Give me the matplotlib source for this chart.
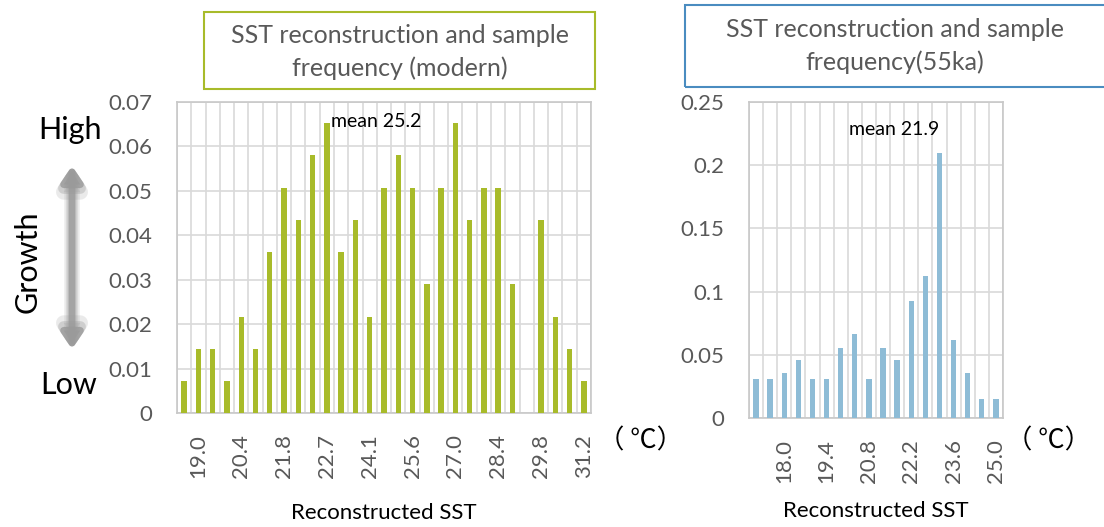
import matplotlib.pyplot as plt
from matplotlib.patches import Rectangle, FancyArrowPatch

plt.rcParams['font.family'] = ['Lato', 'DejaVu Sans']

# modern samples: category labels (only every third one is printed) and frequencies
modern_bins = ["", "19.0", "", "", "20.4", "", "", "21.8", "", "", "22.7", "", "",
               "24.1", "", "", "25.6", "", "", "27.0", "", "", "28.4", "", "",
               "29.8", "", "", "31.2"]
modern_freq = [0.0072, 0.0145, 0.0145, 0.0072, 0.0217, 0.0145, 0.0362, 0.0507,
               0.0435, 0.0580, 0.0652, 0.0362, 0.0435, 0.0217, 0.0507, 0.0580,
               0.0507, 0.0290, 0.0507, 0.0652, 0.0435, 0.0507, 0.0507, 0.0290,
               0.0, 0.0435, 0.0217, 0.0145, 0.0072]

# 55ka samples
ka55_bins = ["", "", "18.0", "", "", "19.4", "", "", "20.8", "", "", "22.2",
             "", "", "23.6", "", "", "25.0"]
ka55_freq = [0.0309, 0.0309, 0.0356, 0.0461, 0.0309, 0.0309, 0.0554, 0.0665,
             0.0309, 0.0554, 0.0461, 0.0926, 0.1126, 0.2097, 0.0617, 0.0356,
             0.0153, 0.0153]

modern_ticks = [0, 0.01, 0.02, 0.03, 0.04, 0.05, 0.06, 0.07]
modern_ticklabels = ["0", "0.01", "0.02", "0.03", "0.04", "0.05", "0.06", "0.07"]
ka55_ticks = [0, 0.05, 0.1, 0.15, 0.2, 0.25]
ka55_ticklabels = ["0", "0.05", "0.1", "0.15", "0.2", "0.25"]

GRID = '#d9d9d9'
TXT = '#595959'


def draw_hist(ax, bins, freq, color, yticks, yticklabels, mean_txt, mean_pos, xpad):
    n = len(bins)
    xs = list(range(n))
    ax.bar(xs, freq, width=0.38, color=color, zorder=3)
    ax.set_xlim(-0.5, n - 0.5)
    ax.set_ylim(0, yticks[-1])
    ax.set_yticks(yticks)
    ax.set_yticklabels(yticklabels, fontsize=16, color=TXT)
    for y in yticks:
        ax.axhline(y, color=GRID, lw=1.2, zorder=1)
    for i in range(n + 1):
        ax.axvline(i - 0.5, color=GRID, lw=1.2, zorder=1)
    ax.set_xticks(xs)
    ax.set_xticklabels(bins, rotation=90, fontsize=16, color=TXT)
    ax.tick_params(axis='y', length=0, pad=18)
    ax.tick_params(axis='x', length=0, pad=15)
    for s in ax.spines.values():
        s.set_color('#c8c8c8')
        s.set_linewidth(1.2)
    ax.set_xlabel("Reconstructed SST", fontsize=16, color='black', labelpad=xpad)
    ax.text(mean_pos[0], mean_pos[1], mean_txt, fontsize=14, color='black',
            ha='left', va='center', zorder=4)


fig = plt.figure(figsize=(11.04, 5.27), dpi=100)

ax1 = fig.add_axes([0.1603, 0.2163, 0.375, 0.5902])
draw_hist(ax1, modern_bins, modern_freq, '#a8bb2a', modern_ticks,
          modern_ticklabels, "mean 25.2", (10.3, 0.0655), 18)

ax2 = fig.add_axes([0.6784, 0.2068, 0.2301, 0.5997])
draw_hist(ax2, ka55_bins, ka55_freq, '#8ebcd6', ka55_ticks,
          ka55_ticklabels, "mean 21.9", (6.6, 0.228), 13)

# title boxes
fig.patches.append(Rectangle((204 / 1104, 1 - 89 / 527), (595 - 204) / 1104, 77 / 527,
                             transform=fig.transFigure, fill=False,
                             edgecolor='#a8bb2a', lw=1.5))
fig.text(400 / 1104, 1 - 52 / 527, "SST reconstruction and sample\nfrequency (modern)",
         ha='center', va='center', fontsize=18, color=TXT, linespacing=1.45)

fig.patches.append(Rectangle((685 / 1104, 1 - 87 / 527), 430 / 1104, 82 / 527,
                             transform=fig.transFigure, fill=False,
                             edgecolor='#4a8cc0', lw=1.5))
fig.text(895 / 1104, 1 - 46 / 527, "SST reconstruction and sample\nfrequency(55ka)",
         ha='center', va='center', fontsize=18, color=TXT, linespacing=1.45)

# unit labels
fig.text(598 / 1104, 1 - 441 / 527, "（ ℃）", fontsize=19, color='black',
         ha='left', va='center', family=['Noto Sans CJK SC', 'DejaVu Sans'])
fig.text(1006 / 1104, 1 - 441 / 527, "（ ℃）", fontsize=19, color='black',
         ha='left', va='center', family=['Noto Sans CJK SC', 'DejaVu Sans'])

# growth indicator on the left
fig.text(70 / 1104, 1 - 130 / 527, "High", fontsize=22, ha='center', va='center')
fig.text(69 / 1104, 1 - 385 / 527, "Low", fontsize=22, ha='center', va='center')
fig.text(28 / 1104, 1 - 262 / 527, "Growth", fontsize=22, rotation=90,
         ha='center', va='center')
for lw, a in [(11, 0.2), (8, 0.35), (5, 0.8)]:
    fig.patches.append(FancyArrowPatch((72 / 1104, 1 - 352 / 527), (72 / 1104, 1 - 163 / 527),
                                       transform=fig.transFigure,
                                       arrowstyle='<|-|>,head_length=0.45,head_width=0.3',
                                       mutation_scale=20, color='#9a9a9a',
                                       lw=lw, alpha=a))

fig.savefig('out.png', dpi=100)
